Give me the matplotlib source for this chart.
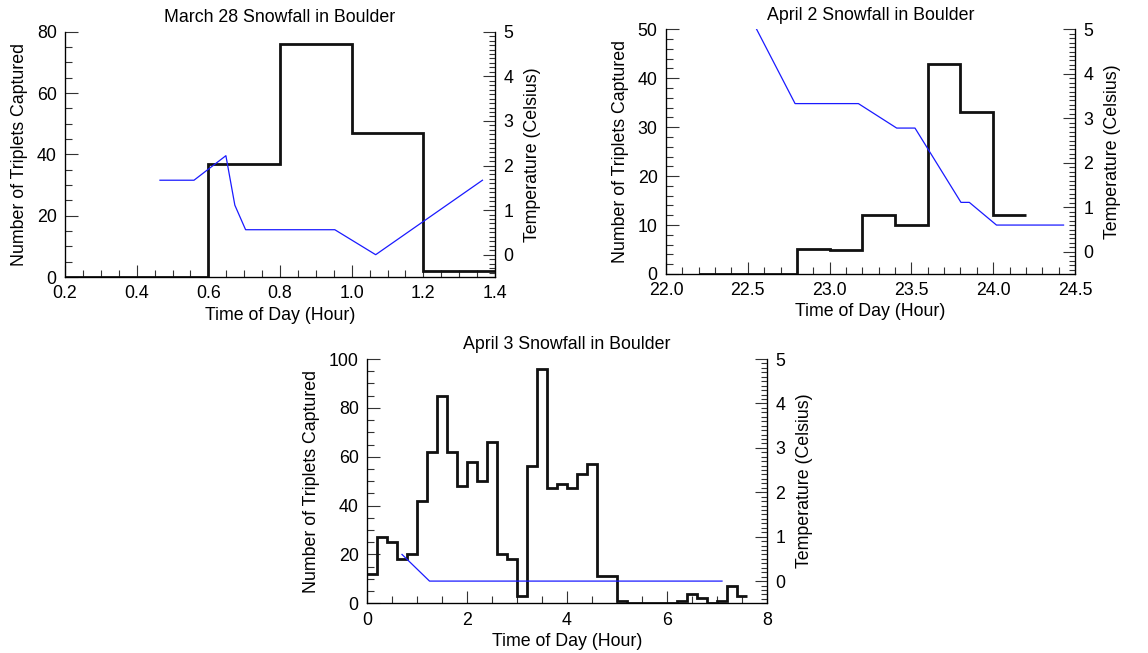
import matplotlib
matplotlib.use("Agg")
import matplotlib.pyplot as plt
from matplotlib.ticker import MultipleLocator, FormatStrFormatter
import numpy as np

plt.rcParams['font.family'] = ['Liberation Sans', 'DejaVu Sans']
plt.rcParams['font.size'] = 12.8

# ---------------- data ----------------
# March 28
m28_edges = [0.2, 0.4, 0.6, 0.8, 1.0, 1.2, 1.4]
m28_counts = [0, 0, 37, 76, 47, 2]
m28_temp_t = [0.465, 0.56, 0.649, 0.674, 0.704, 0.953, 1.067, 1.365]
m28_temp_c = [1.67, 1.67, 2.22, 1.11, 0.56, 0.56, 0.0, 1.67]

# April 2
a2_edges = [22.2, 22.4, 22.6, 22.8, 23.0, 23.2, 23.4, 23.6, 23.8, 24.0, 24.2]
a2_counts = [0, 0, 0, 5.2, 5, 12, 10, 43, 33, 12]
a2_temp_t = [22.554, 22.789, 23.176, 23.41, 23.522, 23.803, 23.854, 24.02, 24.43]
a2_temp_c = [5.0, 3.33, 3.33, 2.78, 2.78, 1.11, 1.11, 0.6, 0.6]

# April 3
a3_edges = [0.0, 0.2, 0.4, 0.6, 0.8, 1.0, 1.2, 1.4, 1.6, 1.8, 2.0, 2.2, 2.4, 2.6,
            2.8, 3.0, 3.2, 3.4, 3.6, 3.8, 4.0, 4.2, 4.4, 4.6, 4.8, 5.0, 5.2,
            5.4, 5.6, 5.8, 6.0, 6.2, 6.4, 6.6, 6.8, 7.0, 7.2, 7.4, 7.6]
a3_counts = [12, 27, 25, 18, 20, 42, 62, 85, 62, 48, 58, 50, 66, 20,
             18, 3, 56, 96, 47, 49, 47, 53, 57, 11, 11, 1, 0.3,
             0.3, 0.3, 0.3, 0.3, 1, 4, 2, 0.3, 1, 7, 3]
a3_temp_t = [0.7, 1.25, 7.1]
a3_temp_c = [0.6, 0.0, 0.0]

titles = ["March 28 Snowfall in Boulder", "April 2 Snowfall in Boulder",
          "April 3 Snowfall in Boulder"]
xlabel = "Time of Day (Hour)"
ylabel_left = "Number of Triplets Captured"
ylabel_right = "Temperature (Celsius)"

W, H = 1148, 653
fig = plt.figure(figsize=(W / 100, H / 100), dpi=100)


def px_axes(left, right, top, bottom):
    return fig.add_axes([left / W, 1 - bottom / H, (right - left) / W, (bottom - top) / H])


panels = [
    dict(box=(65, 495, 31.7, 277), edges=m28_edges, counts=m28_counts,
         tt=m28_temp_t, tc=m28_temp_c, xlim=(0.2, 1.4), ylim=(0, 80),
         xmaj=0.2, xmin=0.05, ymaj=20, ymin=5, xfmt='%.1f'),
    dict(box=(666, 1075, 29.3, 274), edges=a2_edges, counts=a2_counts,
         tt=a2_temp_t, tc=a2_temp_c, xlim=(22.0, 24.5), ylim=(0, 50),
         xmaj=0.5, xmin=0.1, ymaj=10, ymin=2, xfmt='%.1f'),
    dict(box=(367, 767, 359, 603.3), edges=a3_edges, counts=a3_counts,
         tt=a3_temp_t, tc=a3_temp_c, xlim=(0, 8), ylim=(0, 100),
         xmaj=2, xmin=0.5, ymaj=20, ymin=5, xfmt='%d'),
]

for i, p in enumerate(panels):
    ax = px_axes(*p['box'])
    ax.stairs(p['counts'], p['edges'], baseline=None, color='#111111', lw=2.0, zorder=3)
    ax.set_xlim(*p['xlim'])
    ax.set_ylim(*p['ylim'])
    ax.xaxis.set_major_locator(MultipleLocator(p['xmaj']))
    ax.xaxis.set_minor_locator(MultipleLocator(p['xmin']))
    ax.xaxis.set_major_formatter(FormatStrFormatter(p['xfmt']))
    ax.yaxis.set_major_locator(MultipleLocator(p['ymaj']))
    ax.yaxis.set_minor_locator(MultipleLocator(p['ymin']))
    ax.tick_params(which='both', direction='in', top=False, right=False, width=0.8, color='#333333')
    ax.tick_params(which='major', length=9, pad=6)
    ax.tick_params(which='minor', length=5)
    ax.spines['top'].set_visible(False)
    for s in ['left', 'bottom', 'right']:
        ax.spines[s].set_linewidth(0.9)
    ax.set_title(titles[i], pad=7, fontsize=12.8)
    ax.set_xlabel(xlabel, labelpad=3)
    ax.set_ylabel(ylabel_left, labelpad=6)

    ax2 = ax.twinx()
    ax2.plot(p['tt'], p['tc'], color='#1a1aff', lw=0.9)
    ax2.set_ylim(-0.5, 5)
    ax2.yaxis.set_major_locator(MultipleLocator(1))
    ax2.yaxis.set_minor_locator(MultipleLocator(0.1))
    ax2.yaxis.set_major_formatter(FormatStrFormatter('%d'))
    ax2.tick_params(which='both', direction='in', width=0.8, color='#333333')
    ax2.tick_params(which='major', length=9, pad=6)
    ax2.tick_params(which='minor', length=4.5)
    ax2.spines['top'].set_visible(False)
    ax2.set_ylabel(ylabel_right, labelpad=8)

fig.savefig("out.png", dpi=100)
